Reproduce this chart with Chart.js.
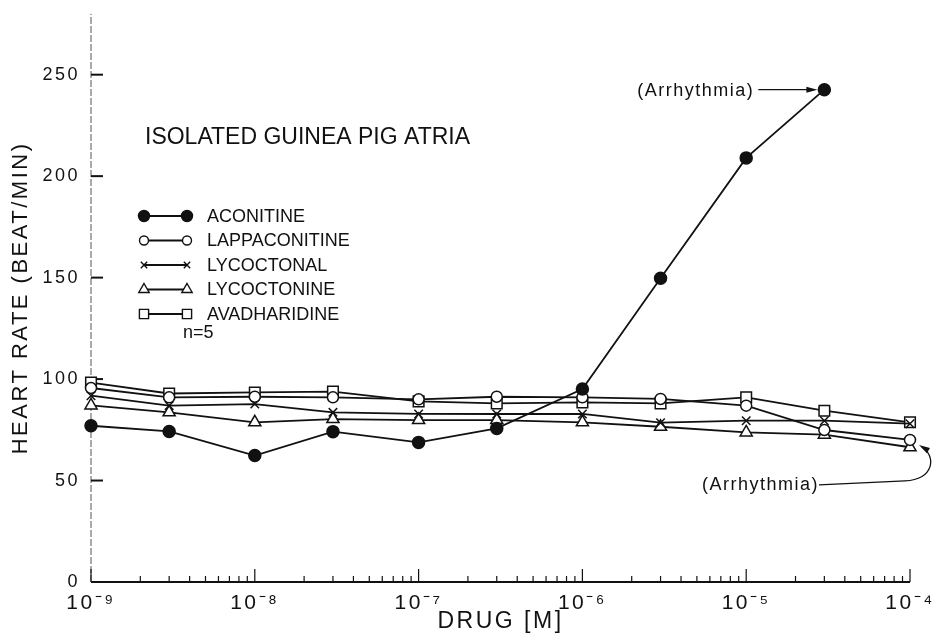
<!DOCTYPE html>
<html>
<head>
<meta charset="utf-8">
<script src="https://cdn.jsdelivr.net/npm/chart.js@4.4.1/dist/chart.umd.min.js"></script>
<style>
  html, body { margin: 0; padding: 0; background: #fff; }
  #wrap { width: 933px; height: 635px; }
</style>
</head>
<body>
<div id="wrap"><canvas id="grafico" width="933" height="635"></canvas></div>
<script>
// dosis del farmaco (M)
const doses = [1e-9, 3e-9, 1e-8, 3e-8, 1e-7, 3e-7, 1e-6, 3e-6, 1e-5, 3e-5, 1e-4];

// frecuencia cardiaca (latidos/min)
const aconitine     = [77, 74.2, 62.3, 74.1, 68.8, 75.7, 95.1, 149.7, 209, 242.6, null];
const lappaconitine = [95.6, 91, 91.3, 91, 90, 91.3, 91, 90.2, 86.9, 74.9, 70];
const lycoctonal    = [91.8, 86.9, 87.7, 83.6, 82.8, 82.8, 82.8, 78.5, 79.5, 79.5, 78];
const lycoctonine   = [87, 83.6, 78.7, 80.3, 79.8, 79.8, 78.7, 76.5, 73.7, 72.6, 66.4];
const avadharidine  = [98.3, 92.9, 93.4, 93.8, 89, 88, 88.5, 88, 91, 84.4, 78.7];

const seriesNames = ['ACONITINE', 'LAPPACONITINE', 'LYCOCTONAL', 'LYCOCTONINE', 'AVADHARIDINE'];

const xTickValues = [1e-9, 1e-8, 1e-7, 1e-6, 1e-5, 1e-4];
const xTickLabels = ['10\u207B\u2079', '10\u207B\u2078', '10\u207B\u2077', '10\u207B\u2076', '10\u207B\u2075', '10\u207B\u2074'];
const yTickValues = [0, 50, 100, 150, 200, 250];

const INK = '#111';
const FONT = '"Liberation Sans", Arial, sans-serif';

function puntos(vals) {
    return doses.map((d, i) => ({x: d, y: vals[i]})).filter(p => p.y !== null);
}

// marcador igual que los de Chart.js, para la leyenda
function marcador(ctx, estilo, r, x, y, relleno) {
    ctx.beginPath();
    if (estilo === 'circle') {
        ctx.arc(x, y, r, 0, Math.PI * 2);
    } else if (estilo === 'rect') {
        const s = r * Math.SQRT1_2;
        ctx.rect(x - s, y - s, 2 * s, 2 * s);
    } else if (estilo === 'triangle') {
        ctx.moveTo(x, y - r);
        ctx.lineTo(x + r * Math.sin(2 * Math.PI / 3), y + r / 2);
        ctx.lineTo(x - r * Math.sin(2 * Math.PI / 3), y + r / 2);
        ctx.closePath();
    } else if (estilo === 'crossRot') {
        const s = r * Math.SQRT1_2;
        ctx.moveTo(x - s, y - s); ctx.lineTo(x + s, y + s);
        ctx.moveTo(x - s, y + s); ctx.lineTo(x + s, y - s);
    }
    if (estilo !== 'crossRot') {
        ctx.fillStyle = relleno;
        ctx.fill();
    }
    ctx.stroke();
}

function flecha(ctx, x0, y0, x1, y1) {
    const ang = Math.atan2(y1 - y0, x1 - x0);
    ctx.beginPath();
    ctx.moveTo(x1, y1);
    ctx.lineTo(x1 - 11 * Math.cos(ang) + 3 * Math.sin(ang), y1 - 11 * Math.sin(ang) - 3 * Math.cos(ang));
    ctx.lineTo(x1 - 11 * Math.cos(ang) - 3 * Math.sin(ang), y1 - 11 * Math.sin(ang) + 3 * Math.cos(ang));
    ctx.closePath();
    ctx.fill();
}

const estilos = [
    {pointStyle: 'circle',   radius: 6,   fill: INK,    legR: 5.5},
    {pointStyle: 'circle',   radius: 5.5, fill: '#fff', legR: 4.5},
    {pointStyle: 'crossRot', radius: 6,   fill: '#fff', legR: 4.5},
    {pointStyle: 'triangle', radius: 7,   fill: '#fff', legR: 6},
    {pointStyle: 'rect',     radius: 7.5, fill: '#fff', legR: 6.5}
];

const ejes = {
    id: 'ejes',
    beforeDraw(chart) {
        chart.ctx.letterSpacing = '2.5px';
    },
    beforeDatasetsDraw(chart) {
        const {ctx, chartArea: {left, right, top, bottom}, scales: {x, y}} = chart;
        ctx.save();
        ctx.strokeStyle = INK;
        ctx.lineWidth = 2;
        ctx.beginPath(); ctx.moveTo(left, bottom); ctx.lineTo(right, bottom); ctx.stroke();
        // eje y cortado como en el original
        ctx.lineWidth = 1;
        ctx.strokeStyle = '#555';
        ctx.setLineDash([7, 2]);
        ctx.beginPath(); ctx.moveTo(left, bottom); ctx.lineTo(left, top); ctx.stroke();
        ctx.setLineDash([]);
        ctx.strokeStyle = INK;
        ctx.lineWidth = 2;
        yTickValues.forEach(v => {
            if (v === 0) return;
            const py = y.getPixelForValue(v);
            ctx.beginPath(); ctx.moveTo(left, py); ctx.lineTo(left + 12, py); ctx.stroke();
        });
        ctx.lineWidth = 1.2;
        for (let d = -9; d <= -4; d++) {
            for (let m = 1; m <= 9; m++) {
                if (d === -4 && m > 1) break;
                const px = x.getPixelForValue(m * Math.pow(10, d));
                const h = m === 1 ? 13 : 6;
                ctx.beginPath(); ctx.moveTo(px, bottom); ctx.lineTo(px, bottom - h); ctx.stroke();
            }
        }
        ctx.restore();
    },
    afterDatasetsDraw(chart) {
        const {ctx, scales: {x, y}} = chart;
        ctx.save();
        ctx.fillStyle = INK;
        ctx.strokeStyle = INK;
        ctx.textBaseline = 'middle';
        ctx.textAlign = 'left';

        // titulo
        ctx.letterSpacing = '0px';
        ctx.font = '23px ' + FONT;
        ctx.fillText('ISOLATED GUINEA PIG ATRIA', 145, 138);

        // leyenda
        ctx.font = '18px ' + FONT;
        seriesNames.forEach((n, i) => {
            const ly = 216 + i * 24.5;
            const e = estilos[i];
            ctx.lineWidth = 2;
            ctx.beginPath(); ctx.moveTo(144, ly); ctx.lineTo(187, ly); ctx.stroke();
            ctx.lineWidth = 1.4;
            marcador(ctx, e.pointStyle, e.legR, 144, ly, e.fill);
            marcador(ctx, e.pointStyle, e.legR, 187, ly, e.fill);
            ctx.fillStyle = INK;
            ctx.fillText(n, 207, ly + 1);
        });
        ctx.fillText('n=5', 183, 333);

        // anotaciones de arritmia
        ctx.font = '18px ' + FONT;
        ctx.letterSpacing = '1.5px';
        const px = x.getPixelForValue(doses[9]);
        const py = y.getPixelForValue(aconitine[9]);
        ctx.textAlign = 'right';
        ctx.fillText('(Arrhythmia)', px - 70, py + 1);
        ctx.lineWidth = 1.3;
        ctx.beginPath(); ctx.moveTo(px - 66, py); ctx.lineTo(px - 12, py); ctx.stroke();
        flecha(ctx, px - 66, py, px - 7, py);

        const cx = x.getPixelForValue(doses[10]);
        const cy = y.getPixelForValue(lappaconitine[10]);
        ctx.textAlign = 'left';
        ctx.fillText('(Arrhythmia)', cx - 208, cy + 45);
        ctx.beginPath();
        ctx.moveTo(cx - 91, cy + 45);
        ctx.lineTo(cx - 5, cy + 41);
        ctx.bezierCurveTo(cx + 25, cy + 39, cx + 26, cy + 16, cx + 12, cy + 7);
        ctx.stroke();
        flecha(ctx, cx + 24, cy + 14, cx + 9, cy + 5);
        ctx.restore();
    }
};

const series = [aconitine, lappaconitine, lycoctonal, lycoctonine, avadharidine];

const datasets = series.map((vals, i) => ({
    label: seriesNames[i],
    data: puntos(vals),
    borderColor: INK,
    borderWidth: 1.8,
    pointStyle: estilos[i].pointStyle,
    pointRadius: estilos[i].radius,
    pointBackgroundColor: estilos[i].fill,
    pointBorderColor: INK,
    pointBorderWidth: 1.5,
    tension: 0,
    clip: false
}));

const ctx = document.getElementById('grafico').getContext('2d');
const myChart = new Chart(ctx, {
    type: 'line',
    data: {datasets: datasets},
    options: {
        responsive: false,
        animation: false,
        layout: {padding: {left: 0, top: 12, right: 23, bottom: 0}},
        plugins: {
            legend: {display: false},
            tooltip: {enabled: false}
        },
        scales: {
            x: {
                type: 'logarithmic',
                min: 1e-9,
                max: 1e-4,
                grid: {display: false},
                border: {display: false},
                afterBuildTicks: s => { s.ticks = xTickValues.map(v => ({value: v})); },
                afterFit: s => { s.height = 53; },
                ticks: {
                    autoSkip: false,
                    maxRotation: 0,
                    padding: 1,
                    color: INK,
                    font: {family: FONT, size: 21},
                    callback: (v, i) => xTickLabels[i]
                },
                title: {
                    display: true,
                    text: 'DRUG [M]',
                    color: INK,
                    font: {family: FONT, size: 23},
                    padding: {top: 0, bottom: 0}
                }
            },
            y: {
                min: 0,
                max: 280,
                grid: {display: false},
                border: {display: false},
                afterBuildTicks: s => { s.ticks = yTickValues.map(v => ({value: v})); },
                afterFit: s => { s.width = 91; },
                ticks: {
                    padding: 3,
                    color: INK,
                    font: {family: FONT, size: 18}
                },
                title: {
                    display: true,
                    text: 'HEART RATE (BEAT/MIN)',
                    color: INK,
                    font: {family: FONT, size: 22},
                    padding: {top: 8, bottom: 0}
                }
            }
        }
    },
    plugins: [ejes]
});
</script>
</body>
</html>
